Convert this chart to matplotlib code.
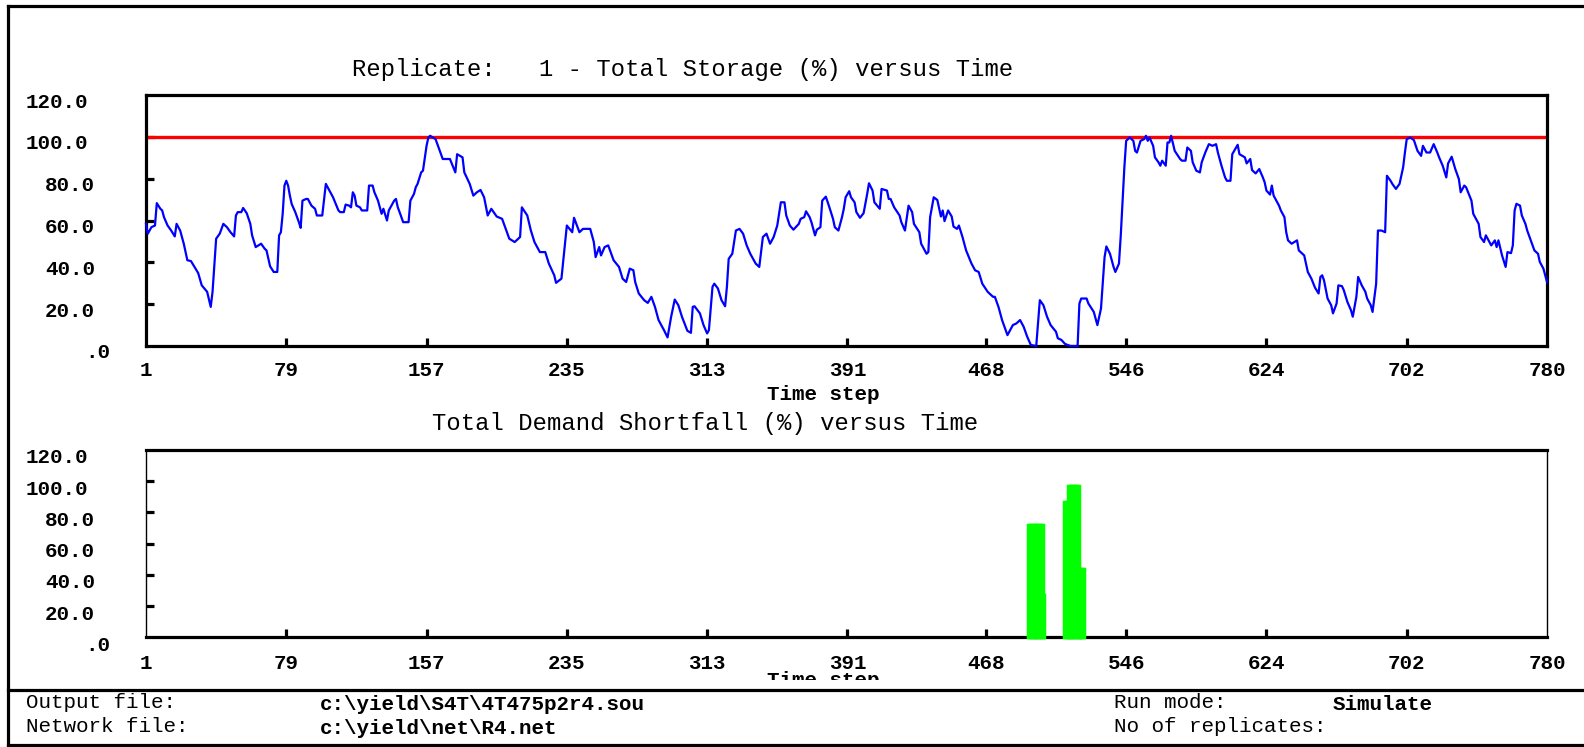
import numpy as np
import matplotlib
matplotlib.use("Agg")
import matplotlib.pyplot as plt
import matplotlib.transforms as mtransforms
from matplotlib.patches import Rectangle
from matplotlib.lines import Line2D

# storage trace (time step, % storage)
storage_t = [1, 2, 4, 6, 7, 9, 10, 11, 13, 15, 17, 18, 20, 22, 24, 26, 28, 30, 32, 35,
             37, 38, 40, 42, 44, 46, 48, 50, 51, 52, 54, 55, 57, 59, 60, 62, 65, 67, 68, 70,
             72, 74, 75, 76, 77, 78, 79, 80, 81, 82, 84, 86, 87, 88, 90, 91, 93, 95, 96, 99,
             101, 103, 105, 108, 109, 111, 112, 114, 115, 116, 117, 118, 120, 121, 124, 125, 127, 128, 130, 132,
             133, 135, 136, 139, 140, 141, 142, 144, 147, 148, 150, 151, 152, 154, 155, 157, 158, 159, 162, 164,
             166, 170, 173, 174, 177, 178, 181, 183, 185, 187, 189, 191, 193, 196, 199, 201, 203, 206, 209, 210,
             213, 215, 217, 220, 223, 225, 228, 229, 232, 234, 235, 238, 239, 242, 244, 248, 250, 251, 253, 254,
             256, 258, 261, 264, 266, 268, 270, 272, 273, 275, 278, 280, 282, 284, 286, 289, 291, 293, 295, 297,
             299, 302, 304, 305, 306, 309, 311, 313, 314, 316, 317, 319, 321, 323, 324, 325, 327, 329, 331, 333,
             335, 337, 340, 342, 344, 346, 348, 350, 352, 354, 356, 357, 359, 361, 364, 365, 367, 368, 370, 371,
             373, 374, 376, 377, 379, 381, 383, 384, 386, 388, 389, 390, 392, 393, 395, 396, 398, 400, 402, 403,
             405, 406, 409, 410, 413, 414, 415, 417, 420, 421, 423, 425, 427, 428, 431, 432, 435, 436, 437, 439,
             441, 443, 444, 445, 447, 449, 450, 452, 453, 455, 457, 460, 462, 464, 466, 469, 472, 473, 475, 477,
             480, 481, 483, 485, 487, 489, 491, 493, 496, 498, 500, 502, 504, 507, 508, 510, 512, 515, 519, 520,
             521, 524, 525, 528, 530, 532, 534, 535, 537, 539, 540, 542, 543, 544, 545, 546, 548, 550, 551, 552,
             554, 556, 557, 558, 559, 561, 562, 564, 565, 566, 568, 569, 570, 571, 573, 576, 577, 579, 580, 582,
             583, 585, 587, 588, 590, 592, 594, 596, 597, 599, 601, 602, 604, 605, 608, 609, 612, 613, 615, 616,
             618, 620, 622, 623, 624, 626, 627, 628, 631, 632, 634, 635, 636, 638, 641, 642, 645, 646, 647, 649,
             651, 653, 654, 655, 656, 658, 660, 661, 663, 664, 666, 667, 669, 671, 672, 674, 675, 677, 679, 680,
             682, 683, 685, 686, 688, 690, 691, 693, 694, 696, 698, 699, 700, 701, 702, 704, 706, 708, 710, 711,
             713, 715, 717, 719, 720, 722, 724, 725, 727, 729, 731, 732, 734, 735, 738, 739, 742, 743, 745, 746,
             749, 751, 752, 753, 755, 757, 758, 760, 761, 762, 763, 765, 766, 768, 769, 771, 773, 775, 776, 778,
             780]
storage_v = [58.4, 53.7, 56.8, 57.6, 68.3, 65.6, 64.8, 61.6, 57.6, 55.2, 52.4, 58.4, 55.2, 48.9, 41.0, 40.6, 37.8, 34.9, 29.0, 25.9,
             18.7, 25.9, 51.3, 53.7, 58.4, 56.8, 54.4, 52.4, 62.4, 64.0, 64.0, 66.0, 63.5, 58.4, 52.9, 47.3, 48.9, 46.5, 45.7, 38.1,
             35.4, 35.4, 52.9, 54.4, 63.2, 76.7, 79.0, 76.7, 71.9, 67.9, 64.0, 59.2, 56.5, 69.5, 70.3, 70.3, 67.1, 65.6, 62.4, 62.4,
             77.5, 74.3, 71.1, 64.8, 64.0, 64.0, 67.6, 67.1, 66.3, 73.5, 71.9, 67.1, 66.3, 64.8, 64.8, 76.7, 76.7, 73.5, 69.5, 63.2,
             65.6, 60.0, 64.8, 69.5, 70.3, 66.3, 64.0, 59.2, 59.2, 69.5, 72.7, 75.9, 77.5, 83.0, 83.8, 95.7, 99.7, 100.5, 98.9, 94.1,
             89.4, 89.4, 83.0, 91.7, 90.2, 83.0, 77.5, 71.9, 73.5, 74.6, 71.1, 62.4, 65.6, 61.9, 60.8, 56.0, 51.3, 49.7, 52.1, 66.3,
             62.4, 55.2, 49.7, 44.9, 44.9, 39.4, 33.8, 30.2, 32.2, 48.9, 57.6, 54.4, 61.3, 54.4, 56.0, 56.0, 49.7, 42.5, 47.3, 43.3,
             47.3, 48.1, 41.0, 37.8, 32.2, 30.6, 37.0, 36.2, 30.6, 25.1, 21.9, 20.6, 23.5, 18.7, 12.4, 7.6, 4.1, 14.0, 22.2, 19.5,
             14.0, 7.3, 6.3, 18.7, 19.0, 15.6, 10.0, 6.0, 7.6, 28.3, 29.8, 27.5, 21.9, 19.0, 28.3, 41.7, 44.1, 55.2, 56.0, 53.7,
             48.1, 44.1, 39.4, 37.8, 52.1, 53.7, 48.9, 52.1, 57.6, 68.7, 68.7, 62.4, 57.6, 55.6, 58.4, 60.8, 61.6, 64.4, 61.6, 59.2,
             52.9, 55.6, 56.8, 69.5, 71.4, 66.3, 60.8, 56.8, 55.2, 61.6, 65.6, 71.1, 74.0, 71.1, 68.7, 64.0, 61.3, 63.5, 72.7, 77.8,
             74.3, 68.7, 65.6, 75.1, 74.3, 70.3, 70.3, 66.3, 62.4, 59.2, 55.2, 67.1, 64.0, 58.4, 54.4, 48.9, 44.1, 44.9, 61.6, 71.1,
             69.8, 61.9, 64.8, 59.7, 64.8, 61.9, 57.1, 56.0, 57.6, 52.1, 45.7, 39.4, 36.2, 35.4, 29.8, 25.9, 23.5, 23.5, 18.7, 12.4,
             5.2, 6.8, 10.0, 10.8, 12.4, 9.2, 4.4, 0.5, 0.0, 21.9, 19.5, 14.0, 10.0, 6.8, 3.7, 2.9, 1.0, 0.0, 0.0, 20.3,
             22.7, 22.7, 20.3, 16.3, 10.0, 17.9, 42.5, 47.6, 44.1, 37.8, 35.4, 39.4, 52.9, 69.5, 85.4, 98.1, 99.7, 98.1, 93.3, 92.5,
             98.1, 98.9, 100.5, 98.1, 99.7, 95.7, 90.2, 87.8, 86.2, 88.6, 86.2, 97.3, 97.3, 100.5, 93.3, 89.4, 88.6, 88.6, 94.9, 93.3,
             87.8, 83.8, 83.0, 87.8, 92.5, 96.5, 95.7, 96.5, 92.5, 86.2, 80.6, 79.0, 79.0, 91.7, 96.2, 91.7, 90.2, 87.3, 89.4, 84.1,
             82.5, 84.6, 80.6, 78.3, 74.3, 72.4, 76.7, 71.9, 67.1, 64.8, 61.6, 54.4, 50.5, 48.9, 50.5, 45.7, 43.3, 39.4, 35.4, 32.2,
             27.9, 25.1, 33.0, 33.8, 31.4, 22.7, 19.5, 15.6, 20.3, 29.0, 28.6, 26.7, 21.1, 17.1, 14.0, 23.5, 33.0, 29.0, 25.9, 22.7,
             19.5, 16.3, 29.8, 55.2, 55.2, 54.4, 81.4, 79.0, 77.5, 75.1, 77.5, 81.4, 85.4, 92.5, 98.9, 99.7, 98.4, 93.3, 90.9, 95.7,
             92.5, 92.5, 96.5, 92.5, 90.2, 86.2, 80.6, 87.3, 90.5, 84.6, 79.8, 73.5, 76.7, 75.9, 69.5, 63.2, 58.4, 52.1, 49.7, 52.9,
             48.1, 50.5, 47.3, 50.5, 43.3, 37.8, 44.9, 44.4, 48.1, 64.8, 68.0, 67.1, 62.4, 58.4, 55.2, 50.5, 45.7, 44.1, 40.2, 37.0,
             30.6]

full_level = 100.0

# demand shortfall (%) per time step, only the non-zero steps
short_t = [492, 493, 494, 495, 496, 497, 498, 499, 500, 512, 513, 514, 515, 516, 517, 518, 519, 520, 521, 522]
short_v = [72, 72, 72, 72, 72, 72, 72, 72, 27, 87, 87, 97, 97, 97, 97, 97, 97, 44, 44, 44]

x_ticks = [1, 79, 157, 235, 313, 391, 468, 546, 624, 702, 780]
y_ticks = [0, 20, 40, 60, 80, 100, 120]
y_labels = [".0", "20.0", "40.0", "60.0", "80.0", "100.0", "120.0"]
# right edge of each y label, pixels left of the axis
y_label_dx = [-36, -51, -51, -51, -51, -58, -58]

W, H = 1584, 747
MONO = "Liberation Mono"

fig = plt.figure(figsize=(W / 100, H / 100), dpi=100)
fig.patch.set_facecolor("white")


def px(x, y):
    return x / W, 1 - y / H


def setup(ax, lab_dy, ydy, thin_sides=False):
    ax.set_xlim(1, 780)
    ax.set_ylim(0, 120)
    for s in ax.spines.values():
        s.set_linewidth(2.3)
    if thin_sides:
        ax.spines["left"].set_linewidth(1.0)
        ax.spines["right"].set_linewidth(1.0)
    ax.set_xticks(x_ticks[1:-1])
    ax.set_yticks([20, 40, 60, 80, 100])
    ax.tick_params(axis="both", direction="in", length=5.5, width=2.3,
                   labelbottom=False, labelleft=False)
    bx = mtransforms.blended_transform_factory(ax.transData, ax.transAxes)
    for t in x_ticks:
        tr = mtransforms.offset_copy(bx, fig=fig, x=0, y=-lab_dy, units="dots")
        ax.text(t, 0, str(t), transform=tr, ha="center", va="center",
                fontsize=15, fontweight="bold", family=MONO, clip_on=False)
    by = mtransforms.blended_transform_factory(ax.transAxes, ax.transData)
    for v, lab, dx in zip(y_ticks, y_labels, y_label_dx):
        tr = mtransforms.offset_copy(by, fig=fig, x=dx, y=-ydy, units="dots")
        ax.text(0, v, lab, transform=tr, ha="right", va="center",
                fontsize=15, fontweight="bold", family=MONO, clip_on=False)


# top panel: storage
ax1 = fig.add_axes([146 / W, 1 - 346 / H, 1401 / W, 251 / H])
ax1.axhline(full_level, color="#ff0000", lw=2.4, zorder=2)
ax1.plot(storage_t, storage_v, color="#0000ff", lw=1.6, zorder=3, clip_on=False)
setup(ax1, 24, 7)

# bottom panel: shortfall
ax2 = fig.add_axes([146 / W, 1 - 637.3 / H, 1401 / W, 187.3 / H])
ax2.bar(short_t, short_v, width=1.0, color="#00ff00", edgecolor="#00ff00",
        linewidth=2.5, zorder=3, clip_on=False)
setup(ax2, 26, 8, thin_sides=True)

fig.text(*px(352, 69.5), "Replicate:   1 - Total Storage (%) versus Time",
         ha="left", va="center", fontsize=17.2, family=MONO)
fig.text(*px(432, 423), "Total Demand Shortfall (%) versus Time",
         ha="left", va="center", fontsize=17.2, family=MONO)
fig.text(*px(823, 395), "Time step", ha="center", va="center",
         fontsize=15, fontweight="bold", family=MONO)
fig.text(*px(823, 681), "Time step", ha="center", va="center",
         fontsize=15, fontweight="bold", family=MONO, zorder=3)
# the lower "Time step" is cut off by the footer box
fig.patches.append(Rectangle(px(0, 689), 1, 9 / H, transform=fig.transFigure,
                             facecolor="white", edgecolor="none", zorder=4))

# outer frame and footer separator
lw = 2.3
fig.lines.append(Line2D([8 / W, 8 / W], [1 - 6 / H, 1 - 745 / H], color="black", lw=lw,
                        transform=fig.transFigure, zorder=5))
fig.lines.append(Line2D([8 / W, 1], [1 - 6 / H, 1 - 6 / H], color="black", lw=lw,
                        transform=fig.transFigure, zorder=5))
fig.lines.append(Line2D([8 / W, 1], [1 - 745 / H, 1 - 745 / H], color="black", lw=lw,
                        transform=fig.transFigure, zorder=5))
fig.lines.append(Line2D([8 / W, 1], [1 - 690 / H, 1 - 690 / H], color="black", lw=lw,
                        transform=fig.transFigure, zorder=5))

# footer
fig.text(*px(26, 702), "Output file:", ha="left", va="center", fontsize=15, family=MONO)
fig.text(*px(26, 726), "Network file:", ha="left", va="center", fontsize=15, family=MONO)
fig.text(*px(320, 704), r"c:\yield\S4T\4T475p2r4.sou", ha="left", va="center",
         fontsize=15, fontweight="bold", family=MONO)
fig.text(*px(320, 728), r"c:\yield\net\R4.net", ha="left", va="center",
         fontsize=15, fontweight="bold", family=MONO)
fig.text(*px(1114, 702), "Run mode:", ha="left", va="center", fontsize=15, family=MONO)
fig.text(*px(1333, 704), "Simulate", ha="left", va="center",
         fontsize=15, fontweight="bold", family=MONO)
fig.text(*px(1114, 726), "No of replicates:", ha="left", va="center", fontsize=15, family=MONO)

fig.savefig("out.png", dpi=100, facecolor="white")
